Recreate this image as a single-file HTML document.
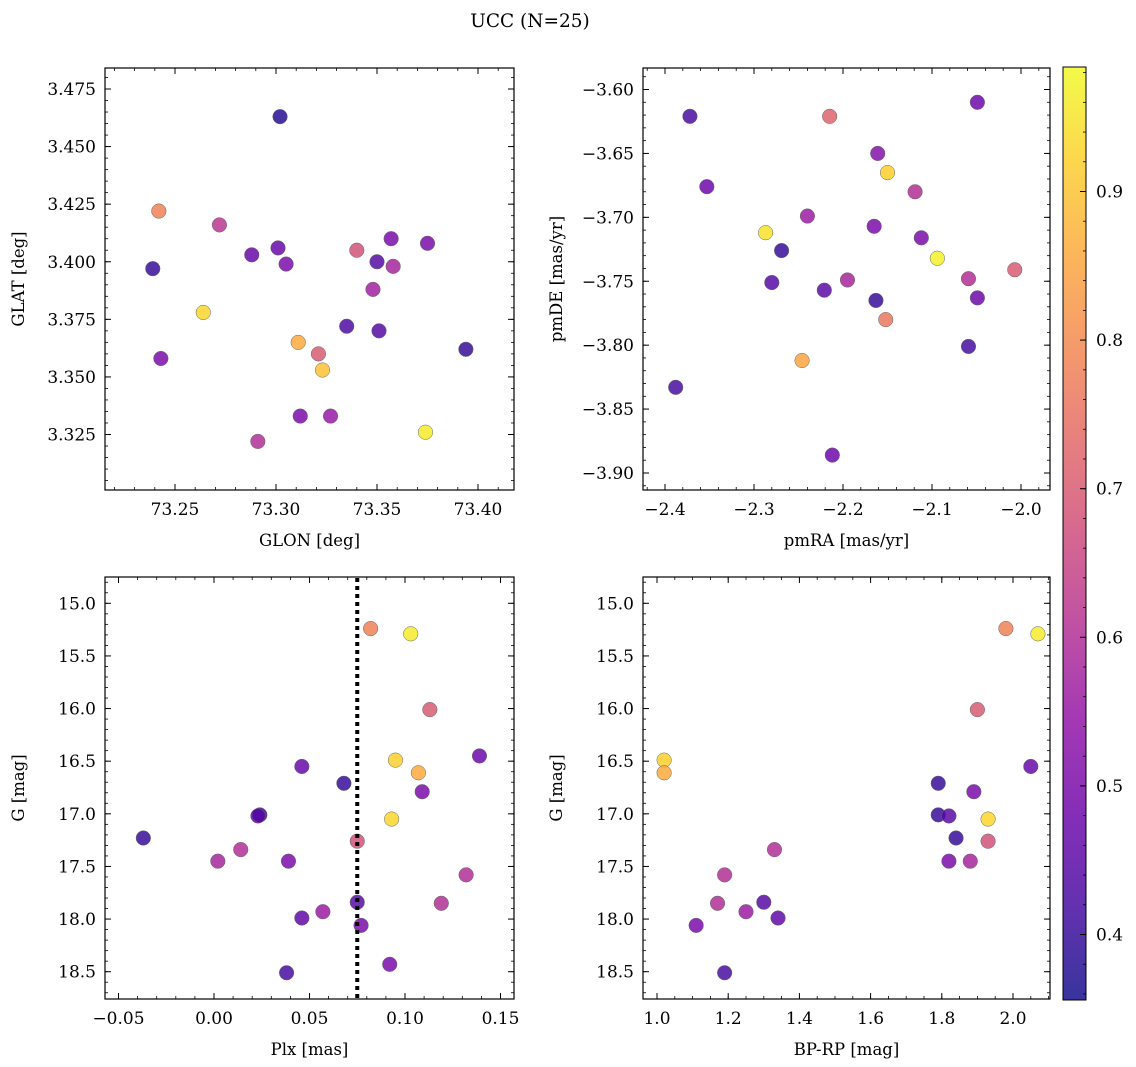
<!DOCTYPE html>
<html><head><meta charset="utf-8"><style>
html,body{margin:0;padding:0;background:#fff;}
svg{display:block;font-family:"DejaVu Serif","Liberation Serif",serif;}
</style></head><body>
<svg id="fig" width="1136" height="1067" viewBox="0 0 1136 1067" xmlns="http://www.w3.org/2000/svg">
<text x="530" y="27" text-anchor="middle" font-size="18.5">UCC (N=25)</text>
</svg>
<script>
// ---- data ----
const glon = [73.302,73.242,73.272,73.239,73.288,73.301,73.305,73.340,73.357,73.375,73.350,73.358,73.348,73.264,73.335,73.351,73.311,73.321,73.323,73.243,73.394,73.312,73.327,73.291,73.374];
const glat = [3.463,3.422,3.416,3.397,3.403,3.406,3.399,3.405,3.410,3.408,3.400,3.398,3.388,3.378,3.372,3.370,3.365,3.360,3.353,3.358,3.362,3.333,3.333,3.322,3.326];
const probTL = [0.38,0.78,0.62,0.40,0.47,0.47,0.50,0.68,0.50,0.50,0.44,0.58,0.57,0.93,0.43,0.44,0.86,0.70,0.90,0.50,0.40,0.50,0.55,0.60,0.96];

const pmra = [-2.372,-2.215,-2.049,-2.161,-2.353,-2.150,-2.119,-2.240,-2.165,-2.287,-2.112,-2.269,-2.094,-2.007,-2.059,-2.195,-2.280,-2.221,-2.049,-2.163,-2.152,-2.059,-2.246,-2.388,-2.212];
const pmde = [-3.621,-3.621,-3.610,-3.650,-3.676,-3.665,-3.680,-3.699,-3.707,-3.712,-3.716,-3.726,-3.732,-3.741,-3.748,-3.749,-3.751,-3.757,-3.763,-3.765,-3.780,-3.801,-3.812,-3.833,-3.886];
const probTR = [0.42,0.72,0.48,0.52,0.48,0.92,0.60,0.56,0.50,0.95,0.50,0.40,0.97,0.70,0.60,0.58,0.44,0.45,0.48,0.40,0.76,0.42,0.85,0.42,0.48];

const plx = [0.082,0.103,0.113,0.095,0.139,0.046,0.107,0.068,0.109,0.024,0.023,0.093,-0.037,0.075,0.014,0.002,0.039,0.132,0.075,0.119,0.057,0.046,0.077,0.092,0.038];
const gBL = [15.24,15.29,16.01,16.49,16.45,16.55,16.61,16.71,16.79,17.01,17.02,17.05,17.23,17.26,17.34,17.45,17.45,17.58,17.84,17.85,17.93,17.99,18.06,18.43,18.51];
const probBL = [0.78,0.96,0.70,0.92,0.48,0.47,0.86,0.40,0.50,0.40,0.45,0.93,0.40,0.68,0.60,0.58,0.50,0.60,0.44,0.60,0.56,0.46,0.50,0.50,0.42];
const plxLine = [0.075];

const bprp = [1.98,2.07,1.90,1.02,1.02,2.05,1.79,1.89,1.79,1.82,1.93,1.84,1.93,1.33,1.82,1.88,1.19,1.30,1.17,1.25,1.34,1.11,1.19];
const gBR = [15.24,15.29,16.01,16.49,16.61,16.55,16.71,16.79,17.01,17.02,17.05,17.23,17.26,17.34,17.45,17.45,17.58,17.84,17.85,17.93,17.99,18.06,18.51];
const probBR = [0.78,0.96,0.70,0.92,0.86,0.47,0.40,0.50,0.40,0.45,0.93,0.40,0.68,0.60,0.50,0.58,0.60,0.44,0.60,0.56,0.46,0.50,0.42];

const ticksGlon = ["73.25","73.30","73.35","73.40"];
const ticksGlat = ["3.325","3.350","3.375","3.400","3.425","3.450","3.475"];
const ticksPmra = ["−2.4","−2.3","−2.2","−2.1","−2.0"];
const ticksPmde = ["−3.60","−3.65","−3.70","−3.75","−3.80","−3.85","−3.90"];
const ticksPlx = ["−0.05","0.00","0.05","0.10","0.15"];
const ticksG = ["15.0","15.5","16.0","16.5","17.0","17.5","18.0","18.5"];
const ticksBprp = ["1.0","1.2","1.4","1.6","1.8","2.0"];
const ticksCbar = ["0.4","0.5","0.6","0.7","0.8","0.9"];

const NS = "http://www.w3.org/2000/svg";
const svg = document.getElementById('fig');
const FS = 17;
function el(tag, attrs, parent){ const e=document.createElementNS(NS,tag); for(const k in attrs) e.setAttribute(k,attrs[k]); (parent||svg).appendChild(e); return e; }
function lin(v0,p0,v1,p1){ return v=>p0+(v-v0)*(p1-p0)/(v1-v0); }
function inv(v0,p0,v1,p1){ return p=>v0+(p-p0)*(v1-v0)/(p1-p0); }
const num = s=>parseFloat(s.replace('−','-'));

const PL = [[13,8,135],[65,4,157],[106,0,168],[143,13,164],[177,42,144],[204,71,120],[225,100,98],[242,132,75],[252,166,54],[252,206,37],[240,249,33]];
const VMIN=0.356, VMAX=0.984;
function plasma(t){ t=Math.max(0,Math.min(1,t)); const f=t*10, i=Math.min(9,Math.floor(f)), r=f-i; const a=PL[i],b=PL[i+1];
  return 'rgb('+[0,1,2].map(k=>Math.round(a[k]+(b[k]-a[k])*r)).join(',')+')'; }
const cmap = v=>plasma((v-VMIN)/(VMAX-VMIN));

function panel(name, box, sx, sy, ix, iy, xt, yt, xminor, yminor, xlabel, ylabel, xs, ys, cs){
  const g = el('g',{});
  
  
  const [L,T,R,B]=box;
  const pts = el('g',{'clip-path':'url(#clip-'+name+')'},g);
  const cp = el('clipPath',{id:'clip-'+name},g); el('rect',{x:L,y:T,width:R-L,height:B-T},cp);
  for(let i=0;i<xs.length;i++){
    const c = el('circle',{cx:sx(xs[i]),cy:sy(ys[i]),r:7.3,fill:cmap(cs[i]),'fill-opacity':0.82,stroke:'#666','stroke-width':0.5},pts);
    
    
  }
  const fr = el('rect',{x:L,y:T,width:R-L,height:B-T,fill:'none',stroke:'#000','stroke-width':1.2},g);
  
  
  const xa=ix(L), xb=ix(R);
  for(let k=Math.ceil(Math.min(xa,xb)/xminor-1e-6);k*xminor<=Math.max(xa,xb)+1e-9;k++){
    const p=sx(k*xminor); if(p<L-0.5||p>R+0.5) continue;
    el('line',{x1:p,x2:p,y1:B,y2:B-3,stroke:'#000','stroke-width':0.8},g);
    el('line',{x1:p,x2:p,y1:T,y2:T+3,stroke:'#000','stroke-width':0.8},g);
  }
  xt.forEach(s=>{ const p=sx(num(s));
    el('line',{x1:p,x2:p,y1:B,y2:B-6,stroke:'#000','stroke-width':1},g);
    el('line',{x1:p,x2:p,y1:T,y2:T+6,stroke:'#000','stroke-width':1},g);
    const t=el('text',{x:p,y:B+25,'text-anchor':'middle','font-size':FS},g); t.textContent=s;
    
    
  });
  const ya=iy(T), yb=iy(B);
  for(let k=Math.ceil(Math.min(ya,yb)/yminor-1e-6);k*yminor<=Math.max(ya,yb)+1e-9;k++){
    const p=sy(k*yminor); if(p<T-0.5||p>B+0.5) continue;
    el('line',{x1:L,x2:L+3,y1:p,y2:p,stroke:'#000','stroke-width':0.8},g);
    el('line',{x1:R,x2:R-3,y1:p,y2:p,stroke:'#000','stroke-width':0.8},g);
  }
  yt.forEach(s=>{ const p=sy(num(s));
    el('line',{x1:L,x2:L+6,y1:p,y2:p,stroke:'#000','stroke-width':1},g);
    el('line',{x1:R,x2:R-6,y1:p,y2:p,stroke:'#000','stroke-width':1},g);
    const t=el('text',{x:L-9,y:p+6,'text-anchor':'end','font-size':FS},g); t.textContent=s;
    
    
  });
  const xl=el('text',{x:(L+R)/2,y:B+56,'text-anchor':'middle','font-size':16.5},g); xl.textContent=xlabel;
  
  
  const yl=el('text',{x:0,y:0,'text-anchor':'middle','font-size':16.5,transform:'translate('+(L-81)+','+((T+B)/2)+') rotate(-90)'},g); yl.textContent=ylabel;
  
  
  return g;
}

panel('glon-glat-panel',[105,68,514,490], lin(73.25,175,73.40,478), lin(3.475,89,3.325,434.5), inv(73.25,175,73.40,478), inv(3.475,89,3.325,434.5),
  ticksGlon, ticksGlat, 0.01, 0.005, 'GLON [deg]', 'GLAT [deg]', glon, glat, probTL);
panel('pmra-pmde-panel',[643,68,1050,490], lin(-2.4,665,-2.0,1021), lin(-3.60,89.5,-3.90,473), inv(-2.4,665,-2.0,1021), inv(-3.60,89.5,-3.90,473),
  ticksPmra, ticksPmde, 0.02, 0.01, 'pmRA [mas/yr]', 'pmDE [mas/yr]', pmra, pmde, probTR);
const sxBL = lin(0,214,0.10,405), syBL = lin(15,603.3,18.5,971.7);
panel('plx-g-panel',[105,577,514,999], sxBL, syBL, inv(0,214,0.10,405), inv(15,603.3,18.5,971.7),
  ticksPlx, ticksG, 0.01, 0.1, 'Plx [mas]', 'G [mag]', plx, gBL, probBL);
plxLine.forEach(v=>{
  const ln = el('line',{x1:sxBL(v),x2:sxBL(v),y1:578,y2:998,stroke:'#000','stroke-width':4,'stroke-dasharray':'4 4'});
  
  
});
panel('bprp-g-panel',[643,577,1050,999], lin(1.0,657,2.0,1013), syBL, inv(1.0,657,2.0,1013), inv(15,603.3,18.5,971.7),
  ticksBprp, ticksG, 0.05, 0.1, 'BP-RP [mag]', 'G [mag]', bprp, gBR, probBR);

const cb = el('g',{});


const defs = el('defs',{},cb);
const grad = el('linearGradient',{id:'cbg',x1:0,y1:1,x2:0,y2:0},defs);
for(let i=0;i<=20;i++){ el('stop',{offset:(i/20),'stop-color':plasma(i/20),'stop-opacity':0.82},grad); }
const CT=67, CB=1000, CL=1063, CR=1086;
el('rect',{x:CL,y:CT,width:CR-CL,height:CB-CT,fill:'url(#cbg)',stroke:'#000','stroke-width':1},cb);
const cy = lin(0.4,934.5,0.9,191.5);
for(let k=18;k<=49;k++){ const p=cy(k*0.02); if(p<CT||p>CB) continue; el('line',{x1:CR,x2:CR-3,y1:p,y2:p,stroke:'#000','stroke-width':0.8},cb); }
ticksCbar.forEach(s=>{ const p=cy(num(s));
  el('line',{x1:CR,x2:CR-6,y1:p,y2:p,stroke:'#000','stroke-width':1},cb);
  const t=el('text',{x:CR+10,y:p+6,'font-size':FS},cb); t.textContent=s;
  
  
});
</script>
</body></html>
